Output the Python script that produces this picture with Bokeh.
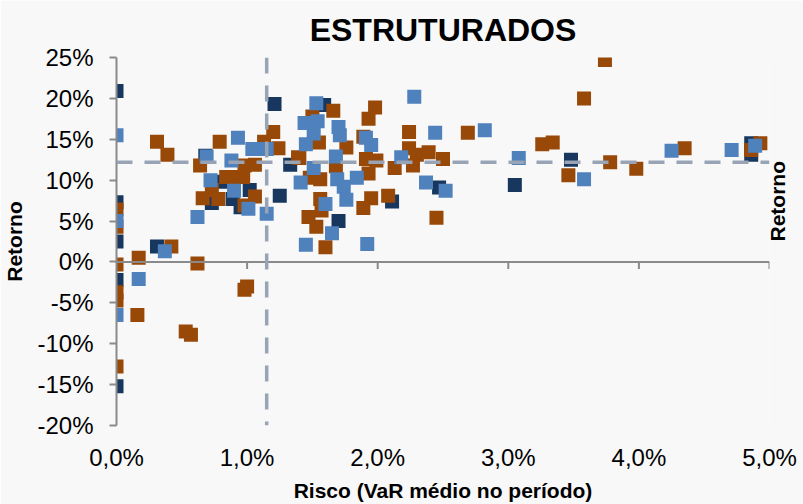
import math
from bokeh.plotting import figure
from bokeh.models import Span, Range1d, FixedTicker, ColumnDataSource, LinearAxis
from bokeh.embed import file_html
from bokeh.resources import INLINE

TITLE = "ESTRUTURADOS"
X_LABEL = "Risco (VaR médio no período)"
Y_LABEL = "Retorno"

X_TICKS = [0, 1, 2, 3, 4, 5]
X_TICK_LABELS = ["0,0%", "1,0%", "2,0%", "3,0%", "4,0%", "5,0%"]
Y_TICKS = [-20, -15, -10, -5, 0, 5, 10, 15, 20, 25]
Y_TICK_LABELS = ["-20%", "-15%", "-10%", "-5%", "0%", "5%", "10%", "15%", "20%", "25%"]

AVG_RISK = 1.15
AVG_RETURN = 12.2

# series 1 (dark navy)
navy_risk = [0.0, 0.0, 0.0, 0.0, 0.0, 0.31, 1.21, 0.68, 1.33, 1.02, 1.25, 0.89,
             0.95, 0.73, 0.80, 1.59, 2.11, 1.70, 2.47, 3.05, 3.48, 4.86, 4.86]
navy_return = [20.9, 7.3, 2.5, -2.2, -15.2, 1.9, 19.3, 13.0, 11.9, 8.8, 8.1, 7.7,
               6.7, 7.2, 9.8, 19.2, 7.4, 5.0, 9.1, 9.4, 12.5, 14.5, 13.1]

# series 2 (brown / orange)
orange_risk = [0.31, 0.39, 0.79, 1.13, 1.20, 1.24, 0.64, 0.98, 1.06, 1.39, 0.84, 0.92,
               0.97, 0.73, 0.66, 0.78, 1.06, 0.98, 0.0, 0.0, 0.0, 0.0, 0.0, 0.0,
               0.42, 0.17, 0.62, 0.16, 0.98, 1.00, 0.53, 0.57, 1.98, 1.93, 1.66, 1.50,
               1.55, 1.76, 1.89, 2.24, 2.69, 2.24, 1.40, 1.91, 1.99, 2.30, 2.39, 2.50,
               2.27, 2.13, 1.68, 1.56, 1.48, 1.93, 1.56, 1.57, 1.95, 1.89, 2.08, 1.47,
               1.53, 2.45, 1.60, 3.74, 3.58, 3.26, 3.34, 3.46, 3.78, 3.98, 4.35, 4.93,
               4.86]
orange_return = [14.7, 13.1, 14.7, 14.7, 15.9, 13.9, 11.8, 11.8, 11.9, 12.8, 10.4, 10.4,
                 10.4, 8.8, 7.8, 7.7, 8.0, 6.9, 6.4, 4.3, -0.3, -3.7, -4.7, -12.8,
                 1.9, 0.5, -0.2, -6.5, -3.4, -3.0, -8.5, -8.9, 18.9, 17.5, 18.5, 17.8,
                 14.6, 14.0, 15.3, 15.9, 15.8, 13.9, 12.7, 12.6, 12.4, 13.1, 13.4, 12.6,
                 11.8, 11.5, 11.7, 10.1, 10.3, 10.8, 7.7, 6.3, 7.8, 6.6, 8.1, 5.5,
                 4.3, 5.4, 1.8, 24.7, 20.0, 14.4, 14.6, 10.6, 12.2, 11.4, 13.9, 14.5,
                 13.7]

# series 3 (light blue)
blue_risk = [0.0, 0.0, 0.0, 0.17, 0.37, 0.93, 1.04, 1.09, 1.15, 0.69, 0.88, 0.72,
             0.90, 1.01, 1.15, 0.62, 2.28, 1.53, 1.44, 1.54, 1.45, 1.51, 1.70, 1.71,
             1.91, 1.95, 2.44, 2.82, 1.68, 2.18, 1.51, 1.41, 1.69, 1.74, 1.84, 2.37,
             2.52, 1.60, 1.76, 1.65, 1.45, 1.92, 3.08, 3.58, 4.25, 4.71, 4.89]
blue_return = [15.5, 5.0, -6.5, -2.1, 1.3, 15.2, 13.8, 13.8, 13.8, 12.9, 12.4, 10.0,
               8.7, 6.5, 5.9, 5.5, 20.2, 19.4, 17.0, 17.2, 14.4, 15.7, 16.5, 15.5,
               15.2, 14.3, 15.8, 16.1, 12.9, 12.8, 11.5, 9.7, 10.1, 9.2, 10.3, 9.7,
               8.7, 7.1, 7.6, 3.5, 2.1, 2.2, 12.7, 10.1, 13.6, 13.7, 14.2]

NAVY = "#17375E"
ORANGE = "#984807"
BLUE = "#4F81BD"
AXIS_GREY = "#8A8A8A"
AVG_LINE = "#98A4B6"
BG = "#F8F8F9"
FONT = "Liberation Sans"

W, H = 803, 504
BL, BR, BT, BB = 115, 33, 57, 79
p = figure(width=W, height=H, x_range=Range1d(X_TICKS[0], X_TICKS[-1]),
           y_range=Range1d(Y_TICKS[0], Y_TICKS[-1]),
           output_backend="svg", toolbar_location=None,
           min_border_left=BL, min_border_right=BR, min_border_top=BT,
           min_border_bottom=BB,
           background_fill_color=BG, border_fill_color=BG, outline_line_color=None)

p.xgrid.visible = False
p.ygrid.visible = False

# title
p.title.text = TITLE
p.title.align = "center"
p.title.text_font = FONT
p.title.text_font_size = "32px"
p.title.text_font_style = "bold"
p.title.text_color = "black"
p.title.standoff = 19

# x axis (labels at the bottom)
xa = p.xaxis[0]
xa.ticker = FixedTicker(ticks=X_TICKS)
xa.major_label_overrides = {t: l for t, l in zip(X_TICKS, X_TICK_LABELS)}
xa.axis_line_color = None
xa.major_tick_line_color = None
xa.minor_tick_line_color = None
xa.major_tick_in = 0
xa.major_tick_out = 0
xa.major_label_standoff = 18
xa.major_label_text_font = FONT
xa.major_label_text_font_size = "24px"
xa.major_label_text_color = "black"
xa.axis_label = X_LABEL
xa.axis_label_text_font = FONT
xa.axis_label_text_font_size = "21px"
xa.axis_label_text_font_style = "bold"
xa.axis_label_text_color = "black"
xa.axis_label_standoff = 5

# y axis
ya = p.yaxis[0]
ya.ticker = FixedTicker(ticks=Y_TICKS)
ya.major_label_overrides = {t: l for t, l in zip(Y_TICKS, Y_TICK_LABELS)}
ya.axis_line_color = AXIS_GREY
ya.axis_line_width = 2
ya.major_tick_line_color = AXIS_GREY
ya.major_tick_line_width = 2
ya.major_tick_in = 0
ya.major_tick_out = 7
ya.minor_tick_line_color = None
ya.major_label_standoff = 16
ya.major_label_text_font = FONT
ya.major_label_text_font_size = "24px"
ya.major_label_text_color = "black"
ya.axis_label = Y_LABEL
ya.axis_label_text_font = FONT
ya.axis_label_text_font_size = "21px"
ya.axis_label_text_font_style = "bold"
ya.axis_label_text_color = "black"
ya.axis_label_standoff = 8

# right-hand label (belongs to the neighbouring chart, visible at the edge)
ra = LinearAxis(ticker=FixedTicker(ticks=[]), axis_line_color=None,
                major_tick_line_color=None, minor_tick_line_color=None,
                major_tick_in=0, major_tick_out=0, major_label_standoff=0,
                major_label_text_font_size="0px",
                axis_label=Y_LABEL, axis_label_text_font=FONT,
                axis_label_text_font_size="21px", axis_label_text_font_style="bold",
                axis_label_text_color="black", axis_label_standoff=8,
                axis_label_text_align="center",
                axis_label_orientation=math.pi / 2)
p.add_layout(ra, "right")

# horizontal axis line at zero return with downward ticks
p.add_layout(Span(location=0, dimension="width", line_color=AXIS_GREY, line_width=2))
frame_h = H - BT - BB
tick_len = 7 * (Y_TICKS[-1] - Y_TICKS[0]) / frame_h
p.segment(x0=X_TICKS[1:], y0=[0] * (len(X_TICKS) - 1), x1=X_TICKS[1:],
          y1=[-tick_len] * (len(X_TICKS) - 1), line_color=AXIS_GREY, line_width=2)

# average lines
p.add_layout(Span(location=AVG_RETURN, dimension="width", line_color=AVG_LINE,
                  line_width=3.5, line_dash="16 12"))
p.add_layout(Span(location=AVG_RISK, dimension="height", line_color=AVG_LINE,
                  line_width=3.5, line_dash="16 12"))

for xs, ys, c in [(navy_risk, navy_return, NAVY),
                  (orange_risk, orange_return, ORANGE),
                  (blue_risk, blue_return, BLUE)]:
    src = ColumnDataSource(data=dict(x=xs, y=ys))
    p.scatter("x", "y", source=src, marker="square", size=14,
              fill_color=c, line_color=None)

open("out.html", "w").write(file_html(p, INLINE))
